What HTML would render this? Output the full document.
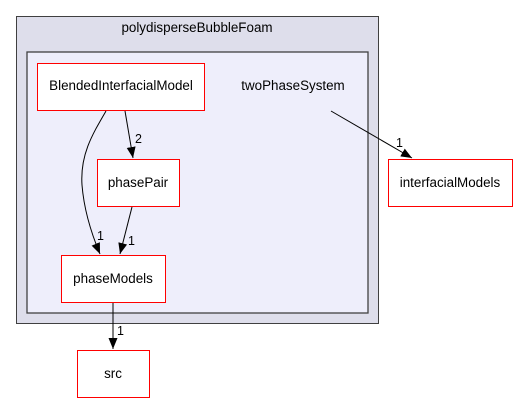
<!DOCTYPE html>
<html><head><meta charset="utf-8"><style>body{margin:0;background:#fff}svg{display:block}</style></head><body>
<svg width="518" height="404" xmlns="http://www.w3.org/2000/svg" font-family="'Liberation Sans',sans-serif" font-size="13.4">
<defs><marker id="a" markerWidth="12" markerHeight="12" refX="11" refY="6" orient="auto" markerUnits="userSpaceOnUse"><path d="M0,1.5 L11,6 L0,10.5 Z" fill="#000"/></marker></defs>
<rect x="16.5" y="16.5" width="362" height="307" fill="#dedeeb" stroke="#404040" stroke-width="1"/>
<text x="197" y="32" text-anchor="middle">polydisperseBubbleFoam</text>
<rect x="27" y="52" width="341" height="261" fill="#eeeefb" stroke="#404040" stroke-width="1.3"/>
<text x="293" y="90" text-anchor="middle">twoPhaseSystem</text>
<rect x="37.5" y="63.5" width="167" height="47" fill="#fff" stroke="#f00"/>
<text x="121" y="90" text-anchor="middle">BlendedInterfacialModel</text>
<rect x="97.5" y="159.5" width="82" height="47" fill="#fff" stroke="#f00"/>
<text x="138" y="187" text-anchor="middle">phasePair</text>
<rect x="61.5" y="255.5" width="104" height="47" fill="#fff" stroke="#f00"/>
<text x="113" y="283" text-anchor="middle">phaseModels</text>
<rect x="388.5" y="159.5" width="124" height="47" fill="#fff" stroke="#f00"/>
<text x="450" y="187" text-anchor="middle">interfacialModels</text>
<rect x="77.5" y="350.5" width="72" height="47" fill="#fff" stroke="#f00"/>
<text x="113" y="378" text-anchor="middle">src</text>
<g stroke="#000" fill="none" marker-end="url(#a)">
<path d="M106,111 C92,135 80,155 82,185 C84,210 92,235 100,254"/>
<path d="M125,111 L133,158"/>
<path d="M132,207 L120,254"/>
<path d="M331,111 L412,158"/>
<path d="M113,303 L113,349"/>
</g>
<g font-size="12.5">
<text x="135" y="143">2</text>
<text x="97" y="240">1</text>
<text x="128" y="245">1</text>
<text x="396" y="147">1</text>
<text x="117" y="335">1</text>
</g>
</svg>
</body></html>
